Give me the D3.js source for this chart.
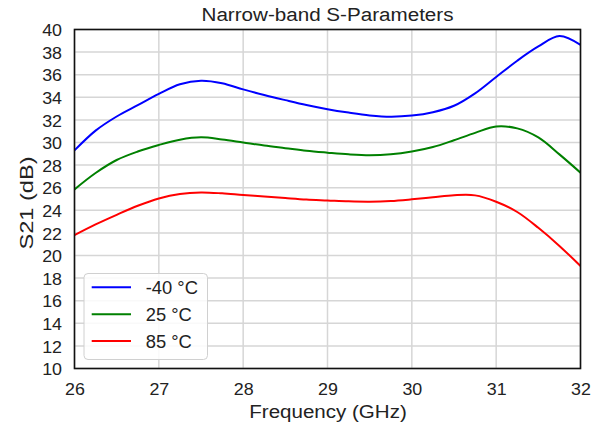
<!DOCTYPE html>
<html>
<head>
<meta charset="utf-8">
<script src="https://cdn.jsdelivr.net/npm/d3@7"></script>
<style>
  html, body { margin: 0; padding: 0; background: #fff; }
  svg { display: block; font-family: "Liberation Sans", Arial, sans-serif; }
</style>
</head>
<body>
<svg id="chart" width="606" height="428"></svg>
<script>
// ---- data ----
const freq = [26.00, 26.25, 26.50, 26.75, 27.00, 27.25, 27.50, 27.75, 28.00, 28.25, 28.50, 28.75,
              29.00, 29.25, 29.50, 29.75, 30.00, 30.25, 30.50, 30.75, 31.00, 31.25, 31.50, 31.75, 32.00];
const s21_m40 = [29.3, 31.05, 32.3, 33.3, 34.3, 35.15, 35.47, 35.25, 34.7, 34.2, 33.75, 33.32,
                 32.95, 32.65, 32.4, 32.28, 32.38, 32.68, 33.25, 34.35, 35.8, 37.24, 38.5, 39.42, 38.63];
const s21_25  = [25.85, 27.3, 28.45, 29.2, 29.78, 30.25, 30.46, 30.27, 30.0, 29.73, 29.5, 29.27,
                 29.1, 28.95, 28.87, 28.95, 29.2, 29.6, 30.2, 30.85, 31.42, 31.25, 30.45, 28.95, 27.33];
const s21_85  = [21.8, 22.75, 23.6, 24.4, 25.05, 25.45, 25.58, 25.5, 25.35, 25.22, 25.08, 24.95,
                 24.87, 24.79, 24.76, 24.82, 24.97, 25.15, 25.33, 25.32, 24.76, 23.85, 22.45, 20.85, 19.07];
const seriesNames = ["-40 °C", "25 °C", "85 °C"];
const seriesColors = ["#0000ff", "#008000", "#ff0000"];
const xTicks = [26, 27, 28, 29, 30, 31, 32];
const yTicks = [10, 12, 14, 16, 18, 20, 22, 24, 26, 28, 30, 32, 34, 36, 38, 40];
const titleText = "Narrow-band S-Parameters";
const xLabel = "Frequency (GHz)";
const yLabel = "S21 (dB)";

const seriesValues = [s21_m40, s21_25, s21_85];

// ---- layout ----
const plot = { left: 74.5, right: 580.5, top: 29.5, bottom: 368.5 };
const textColor = "#222222";

const svg = d3.select("#chart");
const x = d3.scaleLinear().domain([26, 32]).range([plot.left, plot.right]);
const y = d3.scaleLinear().domain([10, 40]).range([plot.bottom, plot.top]);

function stretch(sel, factor) {
  sel.each(function () {
    const L = this.getComputedTextLength();
    d3.select(this).attr("textLength", L * factor).attr("lengthAdjust", "spacingAndGlyphs");
  });
}

// grid
const grid = svg.append("g");
grid.selectAll("line.v").data(xTicks).join("line")
  .attr("x1", d => x(d)).attr("x2", d => x(d))
  .attr("y1", plot.top).attr("y2", plot.bottom)
  .attr("stroke", "#d6d6d6").attr("stroke-width", 1.5);
grid.selectAll("line.h").data(yTicks).join("line")
  .attr("y1", d => y(d)).attr("y2", d => y(d))
  .attr("x1", plot.left).attr("x2", plot.right)
  .attr("stroke", "#d6d6d6").attr("stroke-width", 1.5);

// axes (labels only, no tick marks)
const xAxis = d3.axisBottom(x).tickValues(xTicks).tickSize(0).tickPadding(0).tickFormat(d3.format("d"));
const yAxis = d3.axisLeft(y).tickValues(yTicks).tickSize(0).tickPadding(0).tickFormat(d3.format("d"));

const gx = svg.append("g").attr("transform", `translate(0,${plot.bottom})`).call(xAxis);
gx.select(".domain").remove();
gx.selectAll("text").attr("y", 26.5).attr("dy", null)
  .attr("font-size", 17).attr("fill", textColor).attr("font-family", "Liberation Sans, Arial, sans-serif");
stretch(gx.selectAll("text"), 1.05);

const gy = svg.append("g").attr("transform", `translate(${plot.left},0)`).call(yAxis);
gy.select(".domain").remove();
gy.selectAll("text").attr("x", -12.5).attr("dy", "0.36em")
  .attr("font-size", 17).attr("fill", textColor).attr("font-family", "Liberation Sans, Arial, sans-serif");
stretch(gy.selectAll("text"), 1.05);

// lines
const line = d3.line().x(d => x(d[0])).y(d => y(d[1])).curve(d3.curveCatmullRom.alpha(0.5));
svg.append("clipPath").attr("id", "plotclip").append("rect")
  .attr("x", plot.left).attr("y", plot.top)
  .attr("width", plot.right - plot.left).attr("height", plot.bottom - plot.top);
const lines = svg.append("g").attr("clip-path", "url(#plotclip)");
seriesValues.forEach((vals, i) => {
  lines.append("path")
    .datum(freq.map((f, j) => [f, vals[j]]))
    .attr("d", line)
    .attr("fill", "none")
    .attr("stroke", seriesColors[i])
    .attr("stroke-width", 2);
});

// frame
svg.append("rect")
  .attr("x", plot.left).attr("y", plot.top)
  .attr("width", plot.right - plot.left).attr("height", plot.bottom - plot.top)
  .attr("fill", "none").attr("stroke", "#111").attr("stroke-width", 1.6);

// title
svg.append("text")
  .attr("x", (plot.left + plot.right) / 2).attr("y", 21)
  .attr("text-anchor", "middle").attr("font-size", 18).attr("fill", textColor)
  .attr("textLength", 252).attr("lengthAdjust", "spacingAndGlyphs")
  .text(titleText);

// x label
svg.append("text")
  .attr("x", (plot.left + plot.right) / 2 + 0.5).attr("y", 418)
  .attr("text-anchor", "middle").attr("font-size", 18).attr("fill", textColor)
  .attr("textLength", 157.5).attr("lengthAdjust", "spacingAndGlyphs")
  .text(xLabel);

// y label
svg.append("text")
  .attr("transform", `translate(33,203) rotate(-90)`)
  .attr("text-anchor", "middle").attr("font-size", 18).attr("fill", textColor)
  .attr("textLength", 93).attr("lengthAdjust", "spacingAndGlyphs")
  .text(yLabel);

// legend
const leg = svg.append("g");
leg.append("rect")
  .attr("x", 84).attr("y", 273.5).attr("width", 123.5).attr("height", 86)
  .attr("rx", 4).attr("ry", 4)
  .attr("fill", "#ffffff").attr("fill-opacity", 0.85)
  .attr("stroke", "#d0d0d0").attr("stroke-width", 1);
const rowY = d3.scalePoint().domain(seriesNames).range([287.3, 341]);
const items = leg.selectAll("g.item").data(seriesNames).join("g");
items.append("line")
  .attr("x1", 91.7).attr("x2", 131)
  .attr("y1", d => rowY(d)).attr("y2", d => rowY(d))
  .attr("stroke", (d, i) => seriesColors[i]).attr("stroke-width", 2);
const lt = items.append("text")
  .attr("x", 145.7).attr("y", d => rowY(d) + 7)
  .attr("font-size", 18).attr("fill", textColor)
  .text(d => d);
stretch(lt, 1.02);
</script>
</body>
</html>
